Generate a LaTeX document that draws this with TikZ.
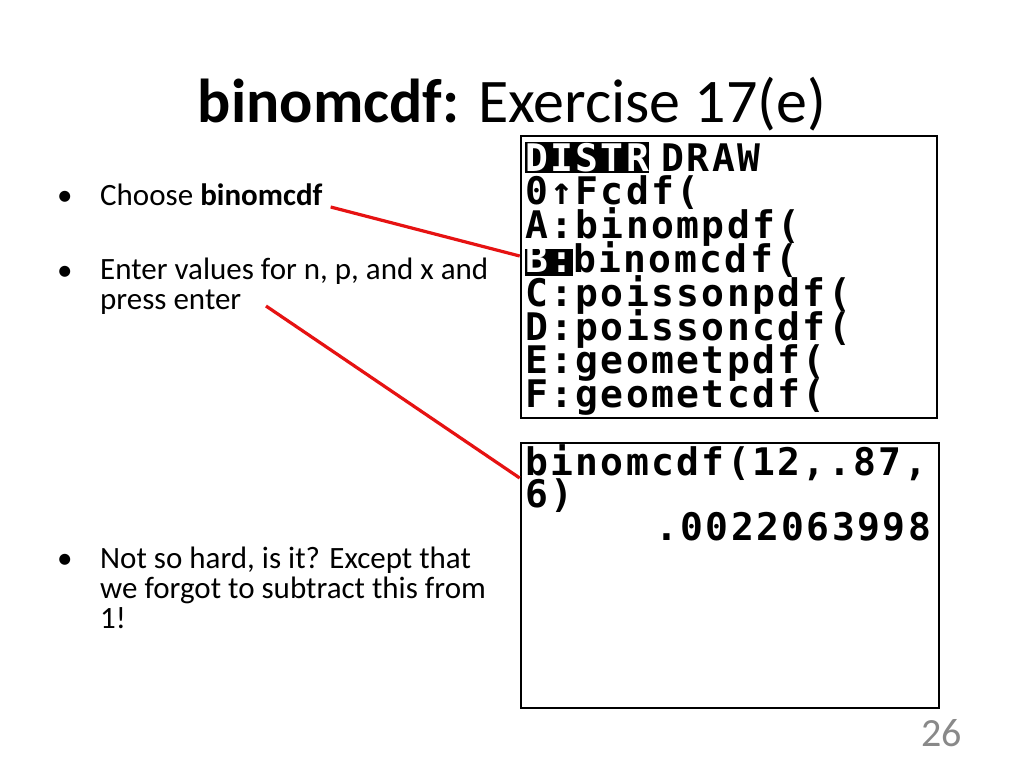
\documentclass[tikz,border=0pt]{standalone}
\usepackage{fontspec}
\setmainfont{Carlito}
\newfontfamily\calcfont{DejaVu Sans Mono}[LetterSpace=6.3]
\usetikzlibrary{positioning}
\usetikzlibrary{chains}
\definecolor{pointer}{RGB}{230,18,18}
\definecolor{pagegray}{RGB}{137,137,137}

\begin{document}
\begin{tikzpicture}[x=1pt,y=-1pt,
            screen/.style = {draw,line width=2.6pt,inner sep=0pt},
            calc/.style = {inner sep=0pt,outer sep=0pt,
                font=\calcfont\bfseries\fontsize{38}{38}\selectfont},
            row/.style = {calc,on chain,text width=406pt,align=left,
                text height=26.5pt,text depth=7.3pt},
            inv/.style = {calc,fill=black,text=white,anchor=base west,
                text height=29pt,text depth=2pt},
            item/.style = {inner sep=0pt,anchor=base west,align=left,
                font=\fontsize{31}{30}\selectfont},
            dot/.style = {item},
            pointer/.style = {draw=pointer,line width=3.2pt}]
            \fill[white] (0,0) rectangle (1024,768);
            \useasboundingbox (0,0) rectangle (1024,768);
            % title and bullets
            \node[anchor=base,inner sep=0pt,font=\fontsize{62}{62}\selectfont]
                (title) at (512,122) {\textbf{binomcdf:} Exercise 17(e)};
            \node[item](choose) at (100,205) {Choose \textbf{binomcdf}};
            \node[item](enter) at (100,309) {Enter values for n, p, and x and\\press enter};
            \node[item](hard) at (100,628) {Not so hard, is it? Except that\\we forgot to subtract this from\\1!};
            \foreach \y in {205,280,568}
                \node[dot] at (57,\y) {•};
            % calculator screens
            \node[screen, minimum width=416pt, minimum height=282pt](scrA) at (729,277) {};
            \node[screen, minimum width=418pt, minimum height=265pt](scrB) at (730,575.5) {};
            \begin{scope}[node distance=0pt, start chain=menu going below]
                \node[row, anchor=base west](dist) at (525,171) {\phantom{DISTR} DRAW};
                \node[row](r0) {0↑Fcdf(};
                \node[row](rA) {A:binompdf(};
                \node[row](rB) {\phantom{B:}binomcdf(};
                \node[row](rC) {C:poissonpdf(};
                \node[row](rD) {D:poissoncdf(};
                \node[row](rE) {E:geometpdf(};
                \node[row](rF) {F:geometcdf(};
            \end{scope}
            \node[inv] at (dist.base west) {DISTR};
            \node[inv, text height=23pt, text depth=4pt] at (rB.base west) {B:};
            \begin{scope}[node distance=0pt, start chain=home going below,
                    row/.append style={text depth=6pt}]
                \node[row, anchor=base west](call) at (525,475) {binomcdf(12,.87,};
                \node[row](close) {6)};
                \node[row, align=right](result) {.0022063998};
            \end{scope}
            % page number
            \node[anchor=base east,inner sep=0pt,text=pagegray,
                font=\fontsize{40}{40}\selectfont](pageno) at (962,746) {26};
            % pointers
            \path[pointer]
                ([xshift=8pt,yshift=-2pt]choose.base east) edge ([yshift=21pt]scrA.west)
                ([xshift=166pt,yshift=3pt]enter.base west) edge ([yshift=97.5pt]scrB.west);
        \end{tikzpicture}
\end{document}
